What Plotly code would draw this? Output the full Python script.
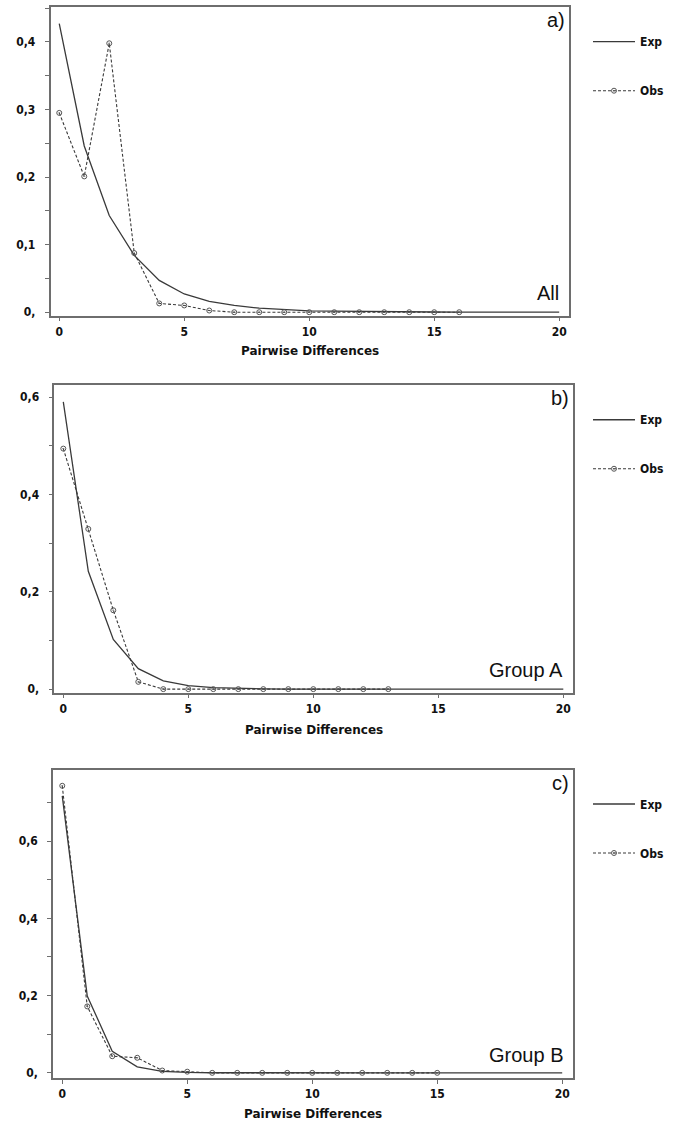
import plotly.graph_objects as go

# Mismatch distributions: expected (sudden-expansion fit) vs observed frequencies
pairwise_exp = list(range(0, 21))

all_exp = [0.427, 0.246, 0.143, 0.084, 0.047, 0.027, 0.016, 0.010, 0.006, 0.004,
           0.002, 0.0015, 0.001, 0.0007, 0.0005, 0.0003, 0.0002, 0.0001, 0.0001, 0.0, 0.0]
all_obs_x = list(range(0, 17))
all_obs = [0.295, 0.201, 0.398, 0.0875, 0.013, 0.010, 0.0025, 0.0, 0.0, 0.0,
           0.0, 0.0, 0.0, 0.0, 0.0, 0.0, 0.0]

grpA_exp = [0.590, 0.242, 0.102, 0.042, 0.017, 0.007, 0.003, 0.001, 0.0005, 0.0002,
            0.0, 0.0, 0.0, 0.0, 0.0, 0.0, 0.0, 0.0, 0.0, 0.0, 0.0]
grpA_obs_x = list(range(0, 14))
grpA_obs = [0.494, 0.329, 0.162, 0.015, 0.0, 0.0, 0.0, 0.0, 0.0, 0.0, 0.0, 0.0, 0.0, 0.0]

grpB_exp = [0.717, 0.199, 0.056, 0.0155, 0.004, 0.001, 0.0003, 0.0, 0.0, 0.0,
            0.0, 0.0, 0.0, 0.0, 0.0, 0.0, 0.0, 0.0, 0.0, 0.0, 0.0]
grpB_obs_x = list(range(0, 16))
grpB_obs = [0.743, 0.172, 0.043, 0.039, 0.006, 0.003, 0.0, 0.0, 0.0, 0.0,
            0.0, 0.0, 0.0, 0.0, 0.0, 0.0]

x_ticks = [0, 5, 10, 15, 20]
yticks_a = [0, 0.1, 0.2, 0.3, 0.4]
ytext_a = ["0,", "0,1", "0,2", "0,3", "0,4"]
yticks_bc = [0, 0.2, 0.4, 0.6]
ytext_bc = ["0,", "0,2", "0,4", "0,6"]

panel_tags = ["a)", "b)", "c)"]
panel_names = ["All", "Group A", "Group B"]
x_title = "Pairwise Differences"

W, H = 678, 1130
TICK_FONT = dict(family="Liberation Sans Narrow, DejaVu Sans Condensed, Arial Narrow, sans-serif",
                 size=12, color="#111", weight="bold")
LINE_C = "#3a3a3a"
FRAME_C = "#6e6e6e"

# pixel boxes of each panel: left, right, top, bottom
boxes = [(50.5, 568.7, 7.3, 316.7), (54.3, 573.3, 386.7, 695.0), (53.0, 572.7, 772.3, 1081.7)]
yranges = [(-0.005, 0.4513), (-0.007, 0.624), (-0.013, 0.785)]
xranges = [(-0.35, 20.38), (-0.36, 20.4), (-0.37, 20.42)]
minor_dt = [0.05, 0.1, 0.1]
title_shift = [-35, -37, -36]

series = [(all_exp, all_obs_x, all_obs), (grpA_exp, grpA_obs_x, grpA_obs), (grpB_exp, grpB_obs_x, grpB_obs)]
ytick_sets = [(yticks_a, ytext_a), (yticks_bc, ytext_bc), (yticks_bc, ytext_bc)]

fig = go.Figure()
layout = dict(width=W, height=H, margin=dict(l=0, r=0, t=0, b=0),
              paper_bgcolor="white", plot_bgcolor="white", showlegend=True,
              annotations=[])

for i in range(3):
    sfx = "" if i == 0 else str(i + 1)
    xa, ya = "x" + sfx, "y" + sfx
    leg = "legend" + sfx
    exp_y, obs_x, obs_y = series[i]
    fig.add_trace(go.Scatter(x=pairwise_exp, y=exp_y, mode="lines", name="Exp",
                             line=dict(color=LINE_C, width=1.3),
                             xaxis=xa, yaxis=ya, legend=leg, legendgroup=f"e{i}"))
    fig.add_trace(go.Scatter(x=obs_x, y=obs_y, mode="lines+markers", name="Obs",
                             line=dict(color=LINE_C, width=1.1, dash="3px,2px"),
                             marker=dict(symbol="circle-open-dot", size=5,
                                         color="#555", line=dict(width=1, color="#555")),
                             xaxis=xa, yaxis=ya, legend=leg, legendgroup=f"o{i}"))

    l, r, t, b = boxes[i]
    tv, tt = ytick_sets[i]
    layout["xaxis" + sfx] = dict(
        domain=[l / W, r / W], range=list(xranges[i]), anchor=ya,
        tickmode="array", tickvals=x_ticks, ticktext=[str(v) for v in x_ticks],
        ticks="outside", ticklen=4, tickcolor=FRAME_C, tickwidth=1,
        showline=True, linecolor=FRAME_C, linewidth=1.5, mirror=True,
        showgrid=False, zeroline=False, tickfont=TICK_FONT)
    layout["yaxis" + sfx] = dict(
        domain=[1 - b / H, 1 - t / H], range=list(yranges[i]), anchor=xa,
        tickmode="array", tickvals=tv, ticktext=tt,
        ticks="outside", ticklen=4, tickcolor=FRAME_C, tickwidth=1,
        minor=dict(dtick=minor_dt[i], tick0=0, ticks="outside", ticklen=4,
                   tickcolor=FRAME_C, tickwidth=1, showgrid=False),
        ticklabelstandoff=7,
        showline=True, linecolor=FRAME_C, linewidth=1.5, mirror=True,
        showgrid=False, zeroline=False, tickfont=TICK_FONT)
    layout[leg] = dict(x=588 / W, y=1 - (t + 30 - 10) / H, xanchor="left", yanchor="top",
                       orientation="v", itemwidth=42, tracegroupgap=30,
                       bgcolor="rgba(0,0,0,0)", borderwidth=0,
                       font=dict(family=TICK_FONT["family"], size=12, color="#111",
                                 weight="bold"))

    dom_x, dom_y = xa + " domain", ya + " domain"
    layout["annotations"] += [
        dict(text=panel_tags[i], xref=dom_x, yref=dom_y, x=1, y=1,
             xanchor="right", yanchor="top", xshift=-2, yshift=0, showarrow=False,
             font=dict(family="Liberation Sans, Arial, sans-serif", size=20, color="#111")),
        dict(text=panel_names[i], xref=dom_x, yref=dom_y, x=1, y=0,
             xanchor="right", yanchor="bottom", xshift=-8, yshift=10, showarrow=False,
             font=dict(family="Liberation Sans, Arial, sans-serif", size=20, color="#111")),
        dict(text="<b>" + x_title + "</b>", xref=dom_x, yref=dom_y, x=0.5, y=0,
             xanchor="center", yanchor="middle", yshift=title_shift[i], showarrow=False,
             font=dict(family="DejaVu Sans, sans-serif", size=12, color="#111")),
    ]

fig.update_layout(**layout)
fig.write_html("out.html")
